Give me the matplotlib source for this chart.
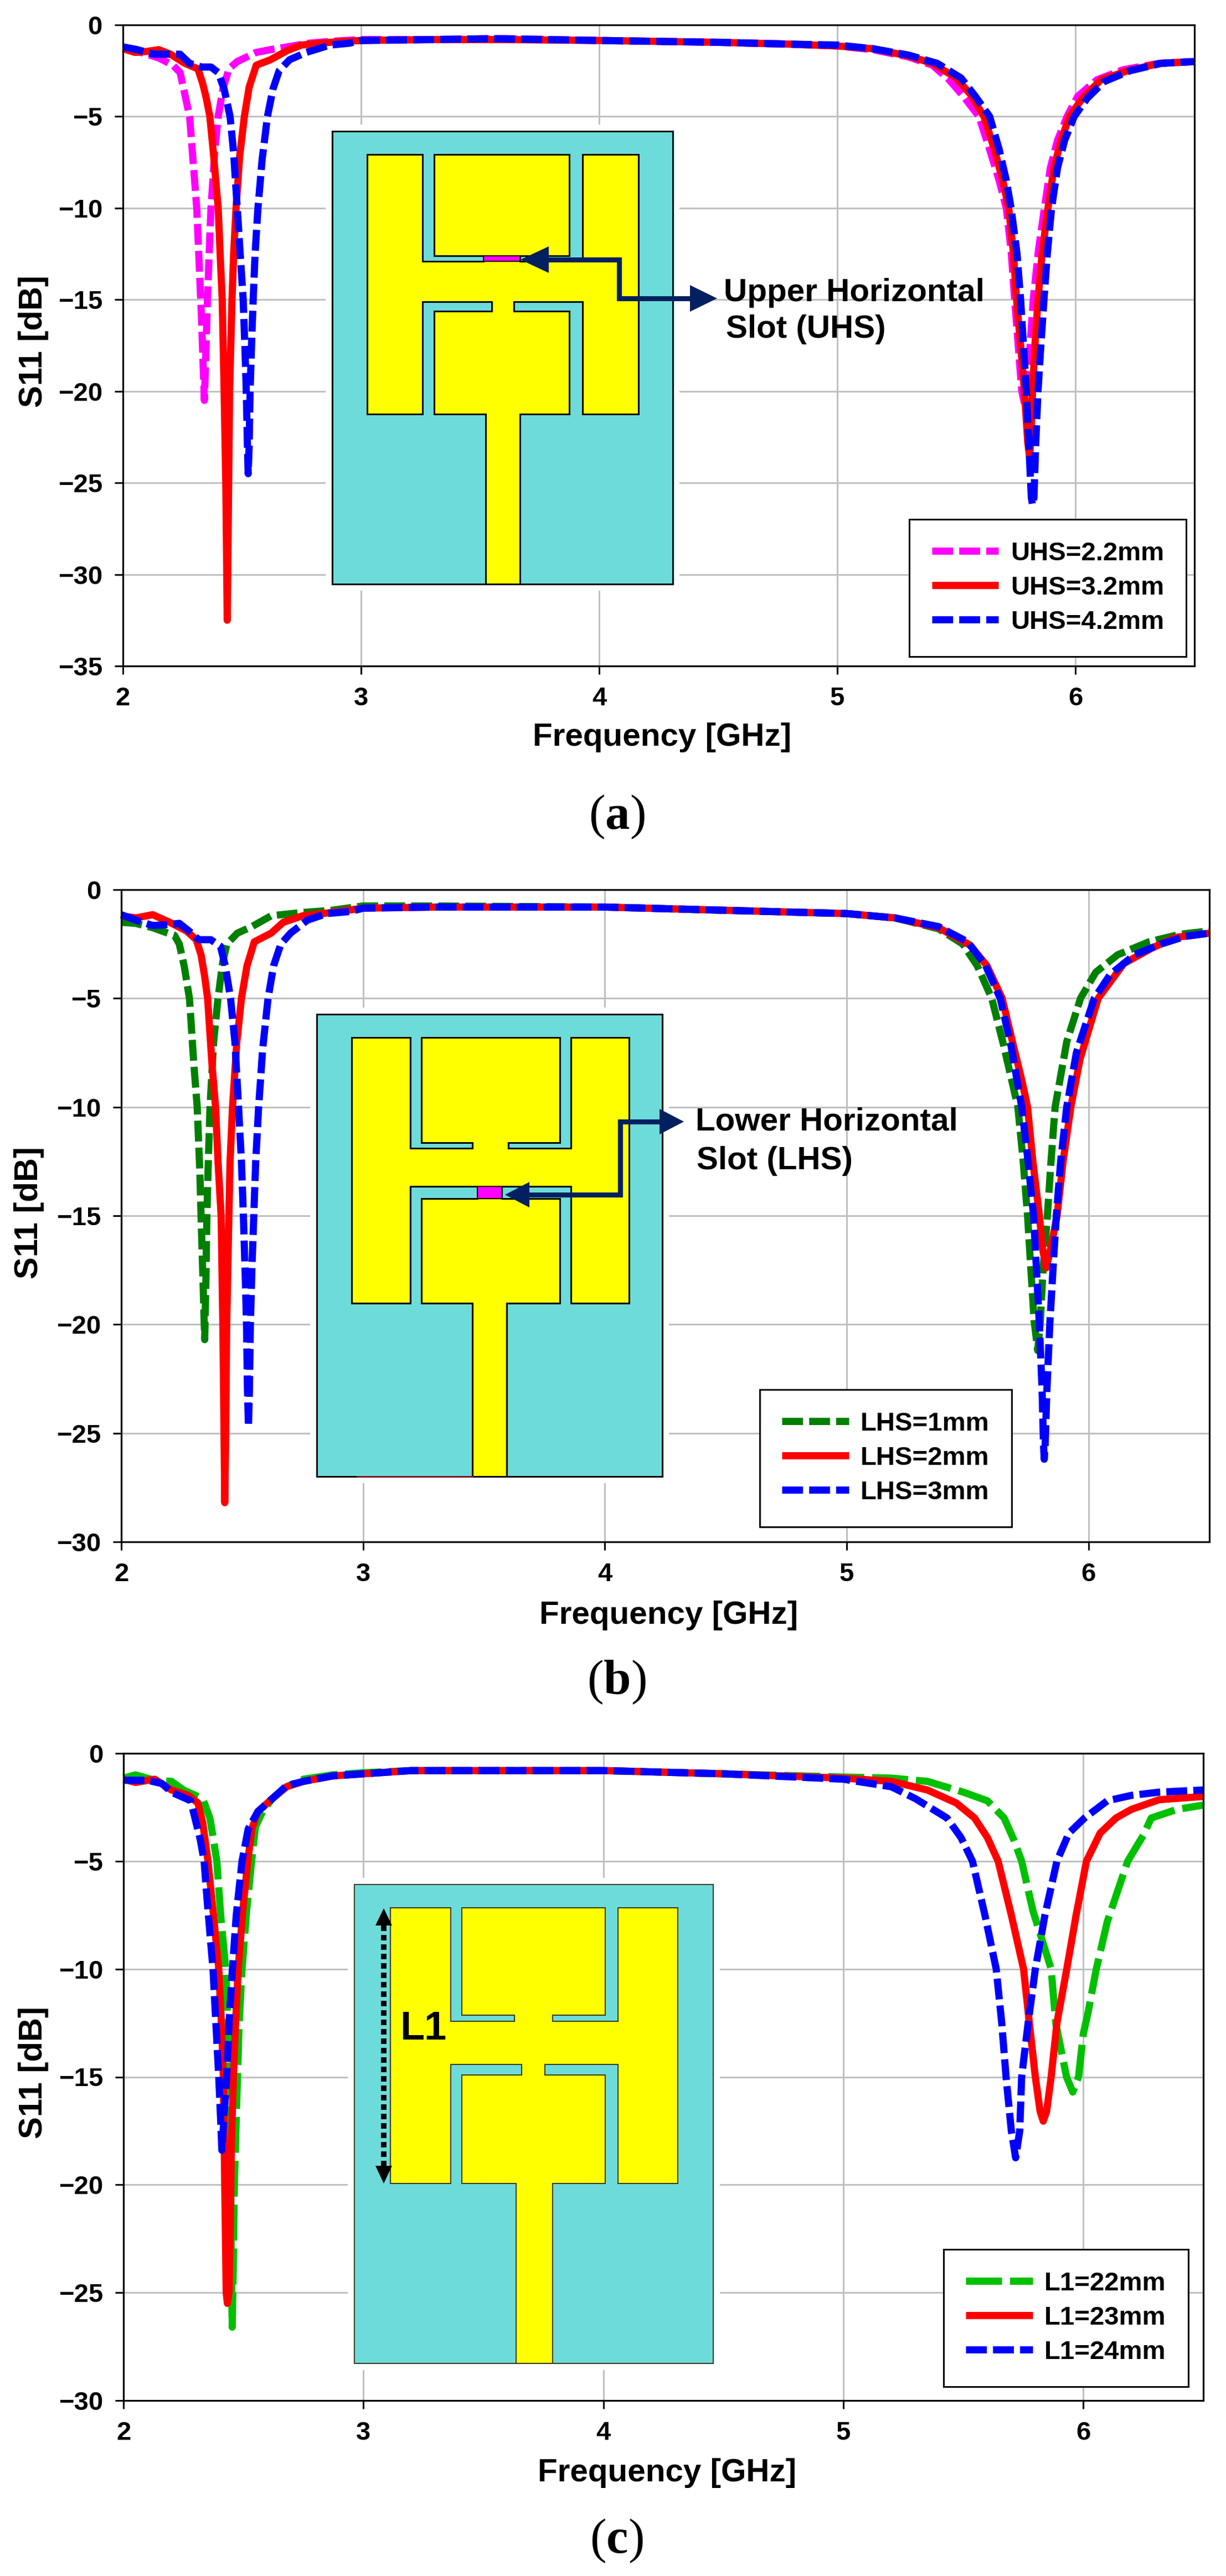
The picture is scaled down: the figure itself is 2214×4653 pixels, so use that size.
from matplotlib import pyplot as plt
from matplotlib.patches import Polygon, Rectangle

W, H = 2214, 4653
plt.rcParams['font.family'] = ['Liberation Sans', 'DejaVu Sans']
plt.rcParams['font.weight'] = 'bold'
plt.rcParams['axes.labelweight'] = 'bold'
plt.rcParams['mathtext.fontset'] = 'custom'
plt.rcParams['mathtext.bf'] = 'Liberation Serif:bold'
plt.rcParams['mathtext.rm'] = 'Liberation Serif'

# ---- panel (a), upper horizontal slot
uhs22_f = [2.0, 2.05, 2.10, 2.15, 2.18, 2.21, 2.24, 2.26, 2.28, 2.295, 2.31, 2.32, 2.33, 2.338, 2.342, 2.348, 2.355,
           2.365, 2.37, 2.385, 2.40, 2.42, 2.445, 2.48, 2.56, 2.62, 2.69, 2.78, 2.87, 3.0, 3.3, 3.6, 4.0, 4.5, 4.8,
           5.0, 5.15, 5.3, 5.4, 5.47, 5.53, 5.595, 5.64, 5.68, 5.71, 5.73, 5.745, 5.76, 5.775, 5.785, 5.795, 5.81,
           5.823, 5.845, 5.87, 5.895, 5.925, 5.965, 6.01, 6.09, 6.2, 6.35, 6.5]
uhs22_s = [-1.3, -1.4, -1.6, -1.8, -2.0, -2.2, -2.6, -3.8, -5, -7.5, -10, -13, -16, -19, -20.5, -18, -15,
           -11.5, -10, -7, -5, -3.5, -2.4, -2.0, -1.5, -1.35, -1.2, -1.0, -0.9, -0.8, -0.8, -0.75, -0.85, -0.95, -1.05,
           -1.15, -1.35, -1.75, -2.2, -3.0, -3.9, -5, -6.8, -8.5, -10, -12.3, -15, -17.5, -20, -20.6, -20, -17.5,
           -15, -12.3, -10, -7.8, -6.3, -5, -3.9, -3.0, -2.45, -2.1, -2.0]

uhs32_f = [2.0, 2.05, 2.1, 2.15, 2.2, 2.26, 2.315, 2.335, 2.35, 2.365, 2.38, 2.40, 2.41, 2.417, 2.425, 2.432, 2.438,
           2.444, 2.448, 2.458, 2.465, 2.475, 2.49, 2.51, 2.53, 2.56, 2.62, 2.69, 2.75, 2.87, 3.0, 3.3, 3.6, 4.0, 4.5,
           4.8, 5.0, 5.15, 5.3, 5.4, 5.5, 5.56, 5.616, 5.66, 5.695, 5.72, 5.74, 5.753, 5.77, 5.786, 5.80, 5.807,
           5.813, 5.82, 5.83, 5.843, 5.86, 5.885, 5.91, 5.94, 5.975, 6.03, 6.107, 6.22, 6.355, 6.5]
uhs32_s = [-1.3, -1.5, -1.45, -1.35, -1.6, -2.1, -2.4, -3.2, -4, -5, -7, -10, -13, -15, -20, -25, -32.5,
           -25, -20, -15, -12.5, -10, -7.2, -5, -3.4, -2.2, -1.9, -1.4, -1.1, -0.95, -0.85, -0.8, -0.8, -0.85, -0.95,
           -1.05, -1.15, -1.3, -1.7, -2.1, -2.9, -3.8, -5, -6.8, -8.5, -10, -12.5, -15, -17.5, -20, -22.8, -23.5,
           -22.8, -20, -17.5, -15, -12.5, -10, -7.8, -6.3, -5, -4, -3, -2.5, -2.1, -2.0]

uhs42_f = [2.0, 2.06, 2.13, 2.2, 2.24, 2.28, 2.33, 2.37, 2.40, 2.425, 2.45, 2.465, 2.48, 2.495, 2.505, 2.512, 2.518,
           2.523, 2.526, 2.53, 2.534, 2.54, 2.547, 2.555, 2.567, 2.585, 2.607, 2.63, 2.656, 2.70, 2.77, 2.87, 2.95,
           3.0, 3.3, 3.55, 4.0, 4.5, 4.8, 5.0, 5.15, 5.3, 5.42, 5.52, 5.58, 5.64, 5.68, 5.71, 5.73, 5.755, 5.77,
           5.782, 5.794, 5.805, 5.815, 5.82, 5.826, 5.833, 5.843, 5.855, 5.868, 5.882, 5.90, 5.925, 5.955, 5.995,
           6.05, 6.12, 6.23, 6.36, 6.5]
uhs42_s = [-1.2, -1.35, -1.6, -1.6, -1.6, -2.1, -2.3, -2.3, -2.6, -3.5, -5, -7, -10, -13, -15, -17.5, -20,
           -23, -24.5, -23, -20, -17.5, -15, -12.5, -10, -7.3, -5, -3.5, -2.5, -1.9, -1.5, -1.1, -1.0,
           -0.85, -0.8, -0.75, -0.85, -0.95, -1.05, -1.1, -1.3, -1.65, -2.1, -2.9, -3.9, -5, -6.8, -8.5, -10, -12.5, -15,
           -17.5, -20, -23, -25.8, -26.2, -25.8, -23, -20, -17.5, -15, -12.5, -10, -7.8, -6.3, -5,
           -4, -3.1, -2.5, -2.1, -2.0]

# ---- panel (b), lower horizontal slot
lhs1_f = [2.0, 2.06, 2.13, 2.18, 2.22, 2.24, 2.26, 2.282, 2.30, 2.314, 2.325, 2.33, 2.338, 2.345, 2.35, 2.354, 2.36,
          2.367, 2.382, 2.40, 2.42, 2.437, 2.48, 2.54, 2.62, 2.75, 2.87, 3.0, 3.3, 4.0, 4.5, 5.0, 5.2, 5.38, 5.48,
          5.54, 5.60, 5.65, 5.708, 5.73, 5.748, 5.762, 5.775, 5.79, 5.80, 5.812, 5.83, 5.845, 5.862, 5.91, 5.967,
          6.03, 6.12, 6.25, 6.38, 6.5]
lhs1_s = [-1.5, -1.55, -1.75, -1.95, -2.1, -2.5, -3.5, -5, -8, -10, -13, -15, -18, -20.7, -18, -15, -12.5,
          -10, -7, -5, -3.3, -2.5, -2.0, -1.7, -1.2, -1.05, -0.95, -0.75, -0.75, -0.8, -0.95, -1.1, -1.3, -1.8, -2.5,
          -3.5, -5, -7.2, -10, -12.5, -15, -17.5, -19.8, -21.2, -20, -17.5, -15, -12.5, -10, -7, -5,
          -3.8, -3.0, -2.4, -2.05, -1.9]

lhs2_f = [2.0, 2.06, 2.13, 2.2, 2.27, 2.31, 2.33, 2.345, 2.357, 2.375, 2.39, 2.40, 2.413, 2.42, 2.425, 2.428, 2.432,
          2.436, 2.445, 2.45, 2.46, 2.478, 2.497, 2.52, 2.55, 2.62, 2.67, 2.75, 2.87, 3.0, 3.3, 4.0, 4.5, 5.0, 5.2,
          5.38, 5.51, 5.58, 5.643, 5.69, 5.725, 5.748, 5.77, 5.797, 5.81, 5.825, 5.84, 5.87, 5.895, 5.927, 5.965,
          6.04, 6.146, 6.26, 6.357, 6.5]
lhs2_s = [-1.2, -1.3, -1.15, -1.5, -1.9, -2.3, -3, -4, -5, -8, -10, -12.5, -15, -20, -25, -28.2, -25,
          -20, -15, -12.5, -10, -7, -5, -3.5, -2.4, -2.0, -1.5, -1.2, -1.05, -0.85, -0.8, -0.8, -0.95, -1.1, -1.3,
          -1.75, -2.55, -3.5, -5, -7.2, -8.8, -10, -12.5, -15, -16.5, -17.4, -16.7, -15, -12.5, -10, -7.8,
          -5, -3.4, -2.7, -2.2, -2.0]

lhs3_f = [2.0, 2.06, 2.13, 2.2, 2.24, 2.28, 2.32, 2.37, 2.41, 2.43, 2.452, 2.47, 2.485, 2.497, 2.505, 2.512, 2.518,
          2.522, 2.526, 2.53, 2.534, 2.54, 2.548, 2.556, 2.568, 2.585, 2.607, 2.63, 2.66, 2.70, 2.77, 2.85, 2.95,
          3.0, 3.3, 4.0, 4.5, 5.0, 5.2, 5.38, 5.5, 5.575, 5.635, 5.68, 5.724, 5.75, 5.773, 5.785, 5.797, 5.808,
          5.814, 5.817, 5.821, 5.828, 5.84, 5.853, 5.867, 5.885, 5.91, 5.95, 6.024, 6.09, 6.19, 6.3, 6.4, 6.5]
lhs3_s = [-1.15, -1.4, -1.65, -1.6, -1.55, -1.9, -2.3, -2.3, -2.6, -3.5, -5, -7, -10, -12.5, -15, -17.5, -20,
          -23, -24.7, -23, -20, -17.5, -15, -12.5, -10, -7.3, -5, -3.5, -2.5, -2.0, -1.4, -1.1, -1.0,
          -0.85, -0.8, -0.8, -0.95, -1.1, -1.3, -1.7, -2.4, -3.5, -5, -7.2, -10, -12.5, -15, -17.5, -20, -23,
          -25.5, -26.2, -25.5, -23, -20, -17.5, -15, -12.5, -10, -7.5, -5, -3.9, -3.0, -2.5, -2.15, -2.0]

# ---- panel (c), arm length L1
l22_f = [2.0, 2.05, 2.13, 2.2, 2.25, 2.33, 2.36, 2.375, 2.389, 2.405, 2.426, 2.436, 2.44, 2.447, 2.45, 2.453, 2.457,
         2.462, 2.475, 2.482, 2.494, 2.513, 2.534, 2.55, 2.58, 2.62, 2.68, 2.75, 2.87, 3.0, 3.2, 3.6, 4.0, 4.5, 5.0,
         5.2, 5.35, 5.5, 5.6, 5.67, 5.71, 5.743, 5.79, 5.866, 5.885, 5.93, 5.956, 5.98, 6.0, 6.02, 6.054, 6.1,
         6.185, 6.25, 6.283, 6.39, 6.5]
l22_s = [-1.15, -1.0, -1.25, -1.3, -1.7, -2.1, -3, -4, -5, -7.5, -10, -12.5, -15, -20, -24, -26.6, -24,
         -20, -15, -12.5, -10, -7.3, -5, -3.4, -2.7, -2.1, -1.55, -1.2, -1.0, -0.9, -0.8, -0.8, -0.8, -0.95, -1.1,
         -1.15, -1.3, -1.8, -2.2, -3, -4, -5, -7.3, -10, -12.5, -15, -15.7, -15, -13, -12, -10, -7.8,
         -5, -3.8, -3, -2.6, -2.4]

l23_f = [2.0, 2.05, 2.13, 2.2, 2.27, 2.31, 2.33, 2.352, 2.375, 2.397, 2.41, 2.416, 2.422, 2.428, 2.433, 2.44, 2.445,
         2.45, 2.458, 2.467, 2.478, 2.497, 2.518, 2.535, 2.56, 2.62, 2.68, 2.75, 2.87, 3.0, 3.2, 3.6, 4.0, 4.5, 5.0,
         5.2, 5.35, 5.47, 5.547, 5.6, 5.645, 5.7, 5.751, 5.775, 5.80, 5.82, 5.833, 5.847, 5.866, 5.89, 5.931, 5.97,
         6.013, 6.07, 6.136, 6.2, 6.316, 6.5]
l23_s = [-1.2, -1.35, -1.2, -1.7, -1.95, -2.3, -3.2, -5, -7.5, -10, -13, -15, -20, -25, -25.5, -25, -22,
         -18, -15, -12.5, -10, -7.3, -5, -3.5, -2.7, -2.1, -1.55, -1.3, -1.05, -0.95, -0.8, -0.8, -0.8, -0.95, -1.15,
         -1.3, -1.7, -2.3, -3, -3.9, -5, -7.5, -10, -12.5, -15, -16.6, -17.05, -16.6, -15, -12.5, -10, -7.5,
         -5, -3.7, -3, -2.6, -2.15, -2.0]

l24_f = [2.0, 2.1, 2.16, 2.2, 2.28, 2.30, 2.32, 2.336, 2.35, 2.373, 2.385, 2.397, 2.405, 2.41, 2.418, 2.43, 2.44,
         2.454, 2.47, 2.494, 2.52, 2.56, 2.62, 2.68, 2.75, 2.87, 3.0, 3.2, 3.6, 4.0, 4.5, 5.0, 5.2, 5.3, 5.432,
         5.49, 5.538, 5.59, 5.637, 5.66, 5.678, 5.70, 5.718, 5.735, 5.743, 5.77, 5.80, 5.84, 5.89, 5.94, 6.005,
         6.1, 6.2, 6.316, 6.5]
l24_s = [-1.25, -1.25, -1.4, -1.8, -2.2, -3.1, -4, -5, -7, -10, -12.5, -15, -17, -18.4, -17, -15, -12.5,
         -10, -7.5, -5, -3.5, -2.7, -2.1, -1.5, -1.3, -1.05, -0.95, -0.8, -0.8, -0.8, -0.95, -1.2, -1.55, -2.1, -3,
         -3.9, -5, -7.5, -10, -12.5, -15, -17.5, -18.75, -17.5, -15, -12.5, -10, -7.5, -5, -3.7, -3,
         -2.2, -1.95, -1.8, -1.7]

x_ticks = [2, 3, 4, 5, 6]
MAGENTA, RED, BLUE = '#ff00ff', '#ff0000', '#0000ff'
DARK_GREEN, LIGHT_GREEN = '#008000', '#00c000'
TEAL, NAVY = '#6ddbd9', '#002060'
PX = 0.72  # points per pixel at dpi 100
DASH = (0, (2.9, 0.85))

fig = plt.figure(figsize=(W / 100, H / 100), dpi=100)
over = fig.add_axes([0, 0, 1, 1], zorder=5)
over.set_xlim(0, W)
over.set_ylim(H, 0)
over.axis('off')


def make_panel(left, right, top, bottom, ymin, series, legend_box, xlab, ylab):
    ax = fig.add_axes([left / W, 1 - bottom / H, (right - left) / W, (bottom - top) / H])
    ax.set_xlim(2, 6.5)
    ax.set_ylim(ymin, 0)
    ax.set_xticks(x_ticks)
    ax.set_yticks(list(range(ymin, 1, 5)))
    ax.grid(True, color='#c0c0c0', lw=3 * PX)
    ax.set_axisbelow(True)
    for sp in ax.spines.values():
        sp.set_linewidth(3.2 * PX)
    ax.tick_params(length=15 * PX, width=3 * PX, labelsize=34, pad=22 * PX)
    for lab in ax.get_xticklabels() + ax.get_yticklabels():
        lab.set_fontweight('bold')
    for f, s, col, dash, lab in series:
        ax.plot(f, s, color=col, lw=13 * PX, ls=dash, label=lab, clip_on=False,
                solid_joinstyle='round', dash_joinstyle='round', solid_capstyle='butt', dash_capstyle='butt')
    ax.set_xlabel('Frequency [GHz]', fontsize=42, va='center')
    ax.xaxis.set_label_coords(xlab[0], xlab[1], transform=over.transData)
    ax.set_ylabel('S11 [dB]', fontsize=43, va='center', ha='center')
    ax.yaxis.set_label_coords(ylab[0], ylab[1], transform=over.transData)
    leg = ax.legend(loc='lower right', bbox_to_anchor=(legend_box[0], legend_box[1]),
                    bbox_transform=over.transData, borderaxespad=0, fontsize=34, fancybox=False, framealpha=1,
                    edgecolor='black', handlelength=2.56, handletextpad=0.45, borderpad=0.85, labelspacing=0.38)
    leg.get_frame().set_linewidth(3 * PX)
    return ax


def antenna(x0, y0, x1, y1, lx, mx, rx, ytop, ybar, ub, lb, ybot, un, ln, fx, edge='black', lw=3):
    # white margin that cuts the grid, then substrate, then the patch outline
    over.add_patch(Rectangle((x0 - 12, y0 - 12), x1 - x0 + 24, y1 - y0 + 24, fc='white', ec='none'))
    over.add_patch(Rectangle((x0, y0), x1 - x0, y1 - y0, fc=TEAL, ec=edge, lw=lw * PX))
    pts = [(lx[0], ytop), (lx[1], ytop), (lx[1], ybar[0]), (un[0], ybar[0]), (un[0], ub), (mx[0], ub), (mx[0], ytop),
           (mx[1], ytop), (mx[1], ub), (un[1], ub), (un[1], ybar[0]), (rx[0], ybar[0]), (rx[0], ytop), (rx[1], ytop),
           (rx[1], ybot), (rx[0], ybot), (rx[0], ybar[1]), (ln[1], ybar[1]), (ln[1], lb), (mx[1], lb), (mx[1], ybot),
           (fx[1], ybot), (fx[1], y1), (fx[0], y1), (fx[0], ybot), (mx[0], ybot), (mx[0], lb), (ln[0], lb),
           (ln[0], ybar[1]), (lx[1], ybar[1]), (lx[1], ybot), (lx[0], ybot)]
    over.add_patch(Polygon(pts, closed=True, fc='#ffff00', ec=edge, lw=lw * PX))


def pointer(points, tip_a, tip_b):
    xs, ys = zip(*points)
    over.plot(xs, ys, color=NAVY, lw=9 * PX, solid_joinstyle='miter', solid_capstyle='butt')
    for tip, base, half in (tip_a, tip_b):
        over.add_patch(Polygon([tip, (base, tip[1] - half), (base, tip[1] + half)], fc=NAVY, ec='none'))


def caption(x, y, letter):
    over.text(x, y, '(' + r'$\mathbf{' + letter + '}$' + ')', family='Liberation Serif', weight='normal',
              fontsize=64, ha='center', va='baseline')


# (a)
make_panel(222, 2157, 45, 1203, -35,
           [(uhs22_f, uhs22_s, MAGENTA, DASH, 'UHS=2.2mm'),
            (uhs32_f, uhs32_s, RED, '-', 'UHS=3.2mm'),
            (uhs42_f, uhs42_s, BLUE, DASH, 'UHS=4.2mm')],
           (2142, 1186), (1196, 1332), (60, 617))
over.add_patch(Rectangle((593, 230), 622, 825, fc='#b4b8c4', ec='none'))
antenna(600, 237, 1215, 1055, (663, 763), (784, 1028), (1052, 1153), 279, (472, 545), 462, 562, 748,
        (873, 939), (888, 928), (877, 939))
over.add_patch(Rectangle((873, 462), 66, 10, fc=MAGENTA, ec='black', lw=2 * PX))
pointer([(985, 469), (1118, 469), (1118, 539), (1250, 539)], ((940, 469), 991, 24), ((1295, 539), 1246, 24))
over.text(1307, 529, 'Upper Horizontal', fontsize=42, va='center')
over.text(1311, 595, 'Slot (UHS)', fontsize=42, va='center')
caption(1114, 1497, 'a')

# (b)
make_panel(219, 2184, 1607, 2785, -30,
           [(lhs1_f, lhs1_s, DARK_GREEN, DASH, 'LHS=1mm'),
            (lhs2_f, lhs2_s, RED, '-', 'LHS=2mm'),
            (lhs3_f, lhs3_s, BLUE, DASH, 'LHS=3mm')],
           (1827, 2758), (1208, 2918), (53, 2191))
antenna(572, 1832, 1196, 2667, (635, 741), (761, 1011), (1031, 1136), 1874, (2074, 2143), 2064, 2165, 2354,
        (853, 918), (862, 906), (853, 915))
over.add_patch(Rectangle((862, 2143), 44, 22, fc=MAGENTA, ec='black', lw=2 * PX))
over.plot([645, 853], [2667, 2667], color='#7a1a1a', lw=3 * PX)
pointer([(950, 2158), (1120, 2158), (1120, 2026), (1195, 2026)], ((912, 2158), 956, 23), ((1235, 2026), 1191, 23))
over.text(1256, 2027, 'Lower Horizontal', fontsize=42, va='center')
over.text(1258, 2097, 'Slot (LHS)', fontsize=42, va='center')
caption(1113, 3060, 'b')

# (c)
make_panel(223, 2173, 3167, 4336, -30,
           [(l22_f, l22_s, LIGHT_GREEN, (0, (5, 1.1)), 'L1=22mm'),
            (l23_f, l23_s, RED, '-', 'L1=23mm'),
            (l24_f, l24_s, BLUE, DASH, 'L1=24mm')],
           (2146, 4311), (1205, 4467), (60, 3744))
antenna(640, 3404, 1288, 4269, (705, 814), (834, 1093), (1116, 1224), 3446, (3651, 3729), 3640, 3748, 3944,
        (929, 998), (942, 984), (932, 998), edge='#3a3a20', lw=2)
over.plot([693, 693], [3478, 3912], color='black', lw=10 * PX, ls=(0, (1, 0.7)))
for tip, base in ((3447, 3478), (3944, 3912)):
    over.add_patch(Polygon([(693, tip), (678, base), (708, base)], fc='black', ec='none'))
over.text(722, 3665, 'L1', fontsize=52, va='center')
caption(1113, 4611, 'c')

fig.savefig('out.png', dpi=100)
